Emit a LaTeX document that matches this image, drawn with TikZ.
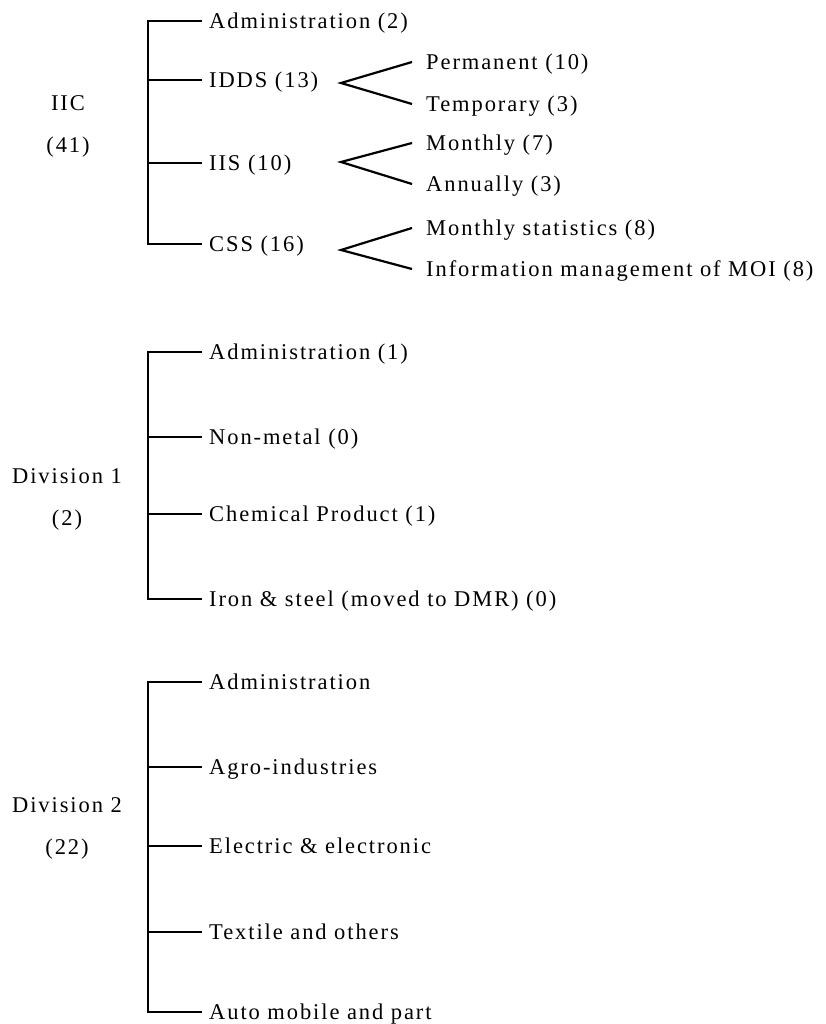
\documentclass[tikz,border=0pt]{standalone}
\usepackage{fontspec}
\setmainfont[LetterSpace=8.5]{Liberation Serif}
\usepackage{tikz}
\usetikzlibrary{positioning}
\tikzset{
	unit/.style={anchor=west, inner xsep=7pt, inner ysep=0pt, text height=15pt, text depth=0pt, font=\fontsize{22.5}{26}\selectfont},
	subunit/.style={unit, inner xsep=14pt},
	head/.style={align=center, font=\fontsize{22.5}{42}\selectfont},
	branch/.style={line width=2.2pt}
}
\newcommand{\connectspine}[3]{
	\draw[branch] (#2.west) -- (#2.west -| #1) -- (#3.west -| #1) -- (#3.west);
}
\newcommand{\connectunit}[2]{
	\draw[branch] (#2.west -| #1) -- (#2.west);
}
\newcommand{\connectfork}[3]{
	\draw[branch] (#2.west) -- (#1) -- (#3.west);
}
\begin{document}
\begin{tikzpicture}[x=1pt, y=-1pt]
	\useasboundingbox (0,0) rectangle (826,1024);
	
	% IIC
	\node[head] (iic) at (68,126) {IIC\\(41)};
	\coordinate (iic-spine) at (148,0);
	\node[unit] (iic-1) at (202,21) {Administration (2)}; %iic-1
	\node[unit] (iic-2) at (202,80) {IDDS (13)}; %iic-2
	\node[unit] (iic-3) at (202,163) {IIS (10)}; %iic-3
	\node[unit] (iic-4) at (202,244) {CSS (16)}; %iic-4
	\connectspine{iic-spine}{iic-1}{iic-4};
	\connectunit{iic-spine}{iic-2};
	\connectunit{iic-spine}{iic-3};
	
	\coordinate (idds-fork) at (341,83);
	\node[subunit] (idds-1) at (412,62) {Permanent (10)}; %idds-1
	\node[subunit] (idds-2) at (412,104) {Temporary (3)}; %idds-2
	\connectfork{idds-fork}{idds-1}{idds-2};
	
	\coordinate (iis-fork) at (341,162);
	\node[subunit] (iis-1) at (412,143) {Monthly (7)}; %iis-1
	\node[subunit] (iis-2) at (412,184) {Annually (3)}; %iis-2
	\connectfork{iis-fork}{iis-1}{iis-2};
	
	\coordinate (css-fork) at (341,250);
	\node[subunit] (css-1) at (412,228) {Monthly statistics (8)}; %css-1
	\node[subunit] (css-2) at (412,269) {Information management of MOI (8)}; %css-2
	\connectfork{css-fork}{css-1}{css-2};
	
	% Division 1
	\node[head] (div-a) at (67,499) {Division 1\\(2)};
	\coordinate (div-a-spine) at (148,0);
	\node[unit] (div-a-1) at (202,352) {Administration (1)}; %div-a-1
	\node[unit] (div-a-2) at (202,437) {Non-metal (0)}; %div-a-2
	\node[unit] (div-a-3) at (202,514) {Chemical Product (1)}; %div-a-3
	\node[unit] (div-a-4) at (202,599) {Iron \& steel (moved to DMR) (0)}; %div-a-4
	\connectspine{div-a-spine}{div-a-1}{div-a-4};
	\connectunit{div-a-spine}{div-a-2};
	\connectunit{div-a-spine}{div-a-3};
	
	% Division 2
	\node[head] (div-b) at (67,828) {Division 2\\(22)};
	\coordinate (div-b-spine) at (148,0);
	\node[unit] (div-b-1) at (202,682) {Administration}; %div-b-1
	\node[unit] (div-b-2) at (202,767) {Agro-industries}; %div-b-2
	\node[unit] (div-b-3) at (202,846) {Electric \& electronic}; %div-b-3
	\node[unit] (div-b-4) at (202,932) {Textile and others}; %div-b-4
	\node[unit] (div-b-5) at (202,1012) {Auto mobile and part}; %div-b-5
	\connectspine{div-b-spine}{div-b-1}{div-b-5};
	\connectunit{div-b-spine}{div-b-2};
	\connectunit{div-b-spine}{div-b-3};
	\connectunit{div-b-spine}{div-b-4};
	
\end{tikzpicture}
\end{document}
